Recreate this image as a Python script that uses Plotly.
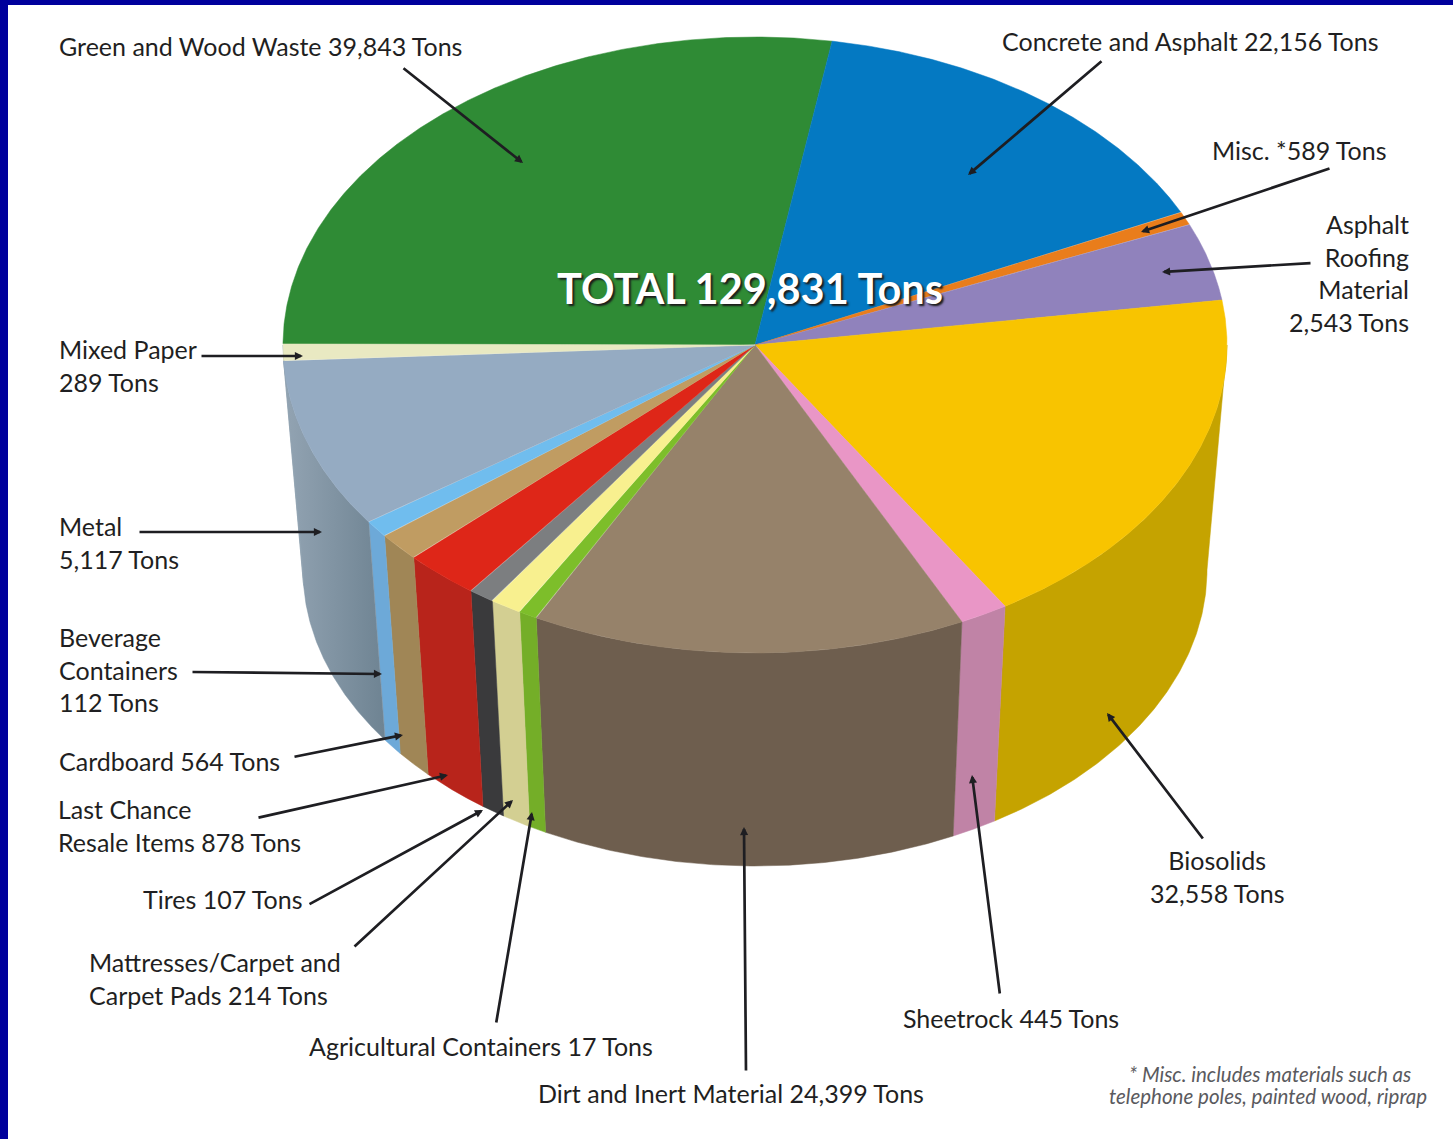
import numpy as np
import plotly.graph_objects as go

# ---- data (clockwise from the left edge of the pie) ----
categories = ["Green and Wood Waste", "Concrete and Asphalt", "Misc.", "Asphalt Roofing Material",
              "Biosolids", "Sheetrock", "Dirt and Inert Material", "Agricultural Containers",
              "Mattresses/Carpet and Carpet Pads", "Tires", "Last Chance Resale Items",
              "Cardboard", "Beverage Containers", "Metal", "Mixed Paper"]
tons = [39843, 22156, 589, 2543, 32558, 445, 24399, 17, 214, 107, 878, 564, 112, 5117, 289]
total_tons = 129831
# the graphic does not draw slices to scale: sweep of each slice as drawn, in degrees
drawn_sweep = [99.2, 55.0, 2.5, 14.7, 66.4, 6.0, 53.6, 2.3, 3.9, 3.2, 9.3, 5.4, 3.2, 32.1, 3.2]
top_colors = ["#2F8B35", "#0479C2", "#E97D1B", "#9082BC", "#F8C400", "#E996C6", "#96826A", "#7DBE2A",
              "#F8F08F", "#7C7E80", "#DE2618", "#C09C62", "#70BDEE", "#95ABC2", "#E9E9C2"]
side_colors = ["#2F8B35", "#0479C2", "#E97D1B", "#9082BC", "#C5A300", "#C083A6", "#6E5E4E", "#74AE28",
               "#D3CF92", "#3A3A3C", "#B8241B", "#A08656", "#6DA9D8", "#7F93A3", "#93A4B3"]
label_templates = ["Green and Wood Waste {} Tons", "Concrete and Asphalt {} Tons", "Misc. *{} Tons",
                   "Asphalt<br>Roofing<br>Material<br>{} Tons", "Biosolids<br>{} Tons", "Sheetrock {} Tons",
                   "Dirt and Inert Material {} Tons", "Agricultural Containers {} Tons",
                   "Mattresses/Carpet and<br>Carpet Pads {} Tons", "Tires {} Tons",
                   "Last Chance<br>Resale Items {} Tons", "Cardboard {} Tons",
                   "Beverage<br>Containers<br>{} Tons", "Metal<br>{} Tons", "Mixed Paper<br>{} Tons"]
footnote_lines = ["* Misc. includes materials such as", "telephone poles, painted wood, riprap"]

# ---- layout of the drawing, in picture pixels ----
W, H = 1453, 1139
TOP = dict(cx=755, cy=345, rx=472, ry=308)
BOT = dict(cx=755, cy=570, rx=452, ry=296)
START_DEG = 179.8
FONT = "Lato"
INK = "#1F1F22"

# label anchor: x, y, xanchor, align ; leader: tail x, y, head x, y
label_pos = [(57, 46, "left", "left"), (1000, 41, "left", "left"), (1210, 150, "left", "left"),
             (1411, 273, "right", "right"), (1217, 876, "center", "center"), (901, 1018, "left", "left"),
             (536, 1093, "left", "left"), (307, 1046, "left", "left"), (87, 978, "left", "left"),
             (223, 899, "center", "center"), (56, 825, "left", "left"), (57, 761, "left", "left"),
             (57, 669, "left", "left"), (57, 542, "left", "left"), (57, 365, "left", "left")]
leaders = [(402, 67, 523, 163), (1103, 60, 968, 175), (1331, 168, 1141, 232), (1312, 263, 1162, 272),
           (1204, 840, 1107, 713), (1000, 995, 972, 775), (746, 1072, 744, 827), (496, 1024, 532, 812),
           (353, 948, 513, 800), (308, 905, 483, 810), (257, 818, 448, 775), (293, 757, 403, 735),
           (191, 672, 382, 674), (138, 532, 322, 532), (200, 356, 303, 356)]


def rim(e, t):
    return e["cx"] + e["rx"] * np.cos(t), e["cy"] - e["ry"] * np.sin(t)


sweep = np.array(drawn_sweep, dtype=float)
sweep = sweep * 360.0 / sweep.sum()
edges = START_DEG - np.concatenate([[0.0], np.cumsum(sweep)])

fig = go.Figure()

# side wall first: only the part of each slice on the near half (angles 0 to -180)
for i, name in enumerate(categories):
    a0, a1 = min(edges[i], 0.0), max(edges[i + 1], -180.0)
    if a0 <= a1:
        continue
    t = np.radians(np.linspace(a0, a1, 120))
    xt, yt = rim(TOP, t)
    xb, yb = rim(BOT, t)
    extra = {}
    if name == "Metal":  # the metal wall is shaded from light to dark
        extra = dict(fillgradient=dict(type="horizontal", colorscale=[[0, "#93A4B3"], [1, "#6E8392"]]))
    fig.add_trace(go.Scatter(x=np.r_[xt, xb[::-1], xt[0]], y=np.r_[yt, yb[::-1], yt[0]],
                             mode="lines", fill="toself", fillcolor=side_colors[i],
                             line=dict(color=side_colors[i], width=0.5),
                             name=name, hoverinfo="name", showlegend=False, **extra))

# top face
for i, name in enumerate(categories):
    t = np.radians(np.linspace(edges[i], edges[i + 1], 300))
    xt, yt = rim(TOP, t)
    fig.add_trace(go.Scatter(x=np.r_[TOP["cx"], xt, TOP["cx"]], y=np.r_[TOP["cy"], yt, TOP["cy"]],
                             mode="lines", fill="toself", fillcolor=top_colors[i],
                             line=dict(color=top_colors[i], width=0.5),
                             name=f"{name}: {tons[i]:,} Tons", hoverinfo="name", showlegend=False))

annotations = []
for (tx, ty, hx, hy) in leaders:
    annotations.append(dict(x=hx, y=hy, ax=tx, ay=ty, xref="x", yref="y", axref="x", ayref="y",
                            text="", showarrow=True, arrowhead=2, arrowsize=0.6, arrowwidth=2.7,
                            arrowcolor="#1E1E22", standoff=0, startstandoff=0))
for i, tpl in enumerate(label_templates):
    x, y, xa, al = label_pos[i]
    annotations.append(dict(x=x, y=y, xref="x", yref="y", text=tpl.format(f"{tons[i]:,}"),
                            showarrow=False, xanchor=xa, yanchor="middle", align=al,
                            font=dict(family=FONT, size=25, color=INK)))
annotations.append(dict(x=750, y=288, xref="x", yref="y", text=f"TOTAL {total_tons:,} Tons", showarrow=False,
                        xanchor="center", yanchor="middle",
                        font=dict(family=FONT, size=41.5, color="white", weight="bold",
                                  shadow="2px 2px 2px #1c1c1c")))
for line, y, x in zip(footnote_lines, (1074, 1096), (1270, 1268)):
    annotations.append(dict(x=x, y=y, xref="x", yref="y", text=f"<i>{line}</i>", showarrow=False,
                            xanchor="center", yanchor="middle",
                            font=dict(family=FONT, size=20.5, color="#5A5A5E")))

fig.update_layout(
    width=W, height=H, margin=dict(l=8, r=0, t=5, b=0, pad=0), autosize=False,
    paper_bgcolor="#00009C", plot_bgcolor="white", annotations=annotations, hovermode="closest",
    xaxis=dict(range=[8, W], visible=False, fixedrange=True),
    yaxis=dict(range=[H, 5], visible=False, fixedrange=True),
)
fig.write_html("out.html", config={"displayModeBar": False},
               post_script="document.body.style.margin='0';document.body.style.overflow='hidden';")
